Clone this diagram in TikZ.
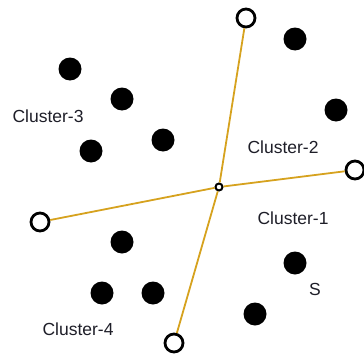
\documentclass[tikz,border=0pt]{standalone}
\usepackage{fontspec}
\setmainfont{Liberation Sans}
\definecolor{linkgold}{RGB}{214,162,30}
\definecolor{labelink}{RGB}{30,30,40}
\begin{document}
\begin{tikzpicture}[x=1pt,y=-1pt,
  datapt/.style={circle,fill=black,draw=none,minimum size=23pt,inner sep=0pt},
  seedpt/.style={circle,draw=black,line width=2.8pt,fill=white,minimum size=18pt,inner sep=0pt},
  hub/.style={circle,draw=black,line width=2pt,fill=white,minimum size=7pt,inner sep=0pt},
  link/.style={draw=linkgold,line width=1.8pt},
  tag/.style={font=\fontsize{17.5}{20}\selectfont,text=labelink,inner sep=0pt}]
\useasboundingbox (0,0) rectangle (364,356);
% data points
\node[datapt] (p1) at (70,69) {};
\node[datapt] (p2) at (122,99) {};
\node[datapt] (p3) at (91,151) {};
\node[datapt] (p4) at (163,140) {};
\node[datapt] (p5) at (295,39) {};
\node[datapt] (p6) at (336,110) {};
\node[datapt] (p7) at (122,242) {};
\node[datapt] (p8) at (102,293) {};
\node[datapt] (p9) at (153,293) {};
\node[datapt] (p10) at (295,263) {};
\node[datapt] (p11) at (255,314) {};
% centre and seeds
\node[hub] (c) at (219,187) {};
\node[seedpt] (s2) at (246,18) {};
\node[seedpt] (s1) at (355,170) {};
\node[seedpt] (s3) at (40,222) {};
\node[seedpt] (s4) at (174,343) {};
\draw[link] (c) -- (s2);
\draw[link] (c) -- (s1);
\draw[link] (c) -- (s3);
\draw[link] (c) -- (s4);
% labels
\node[tag] (l3) at (48,116) {Cluster-3};
\node[tag] (l2) at (283,147) {Cluster-2};
\node[tag] (l1) at (293,218) {Cluster-1};
\node[tag] (l4) at (78,329) {Cluster-4};
\node[tag] (ls) at (315,289) {S};
\end{tikzpicture}
\end{document}
